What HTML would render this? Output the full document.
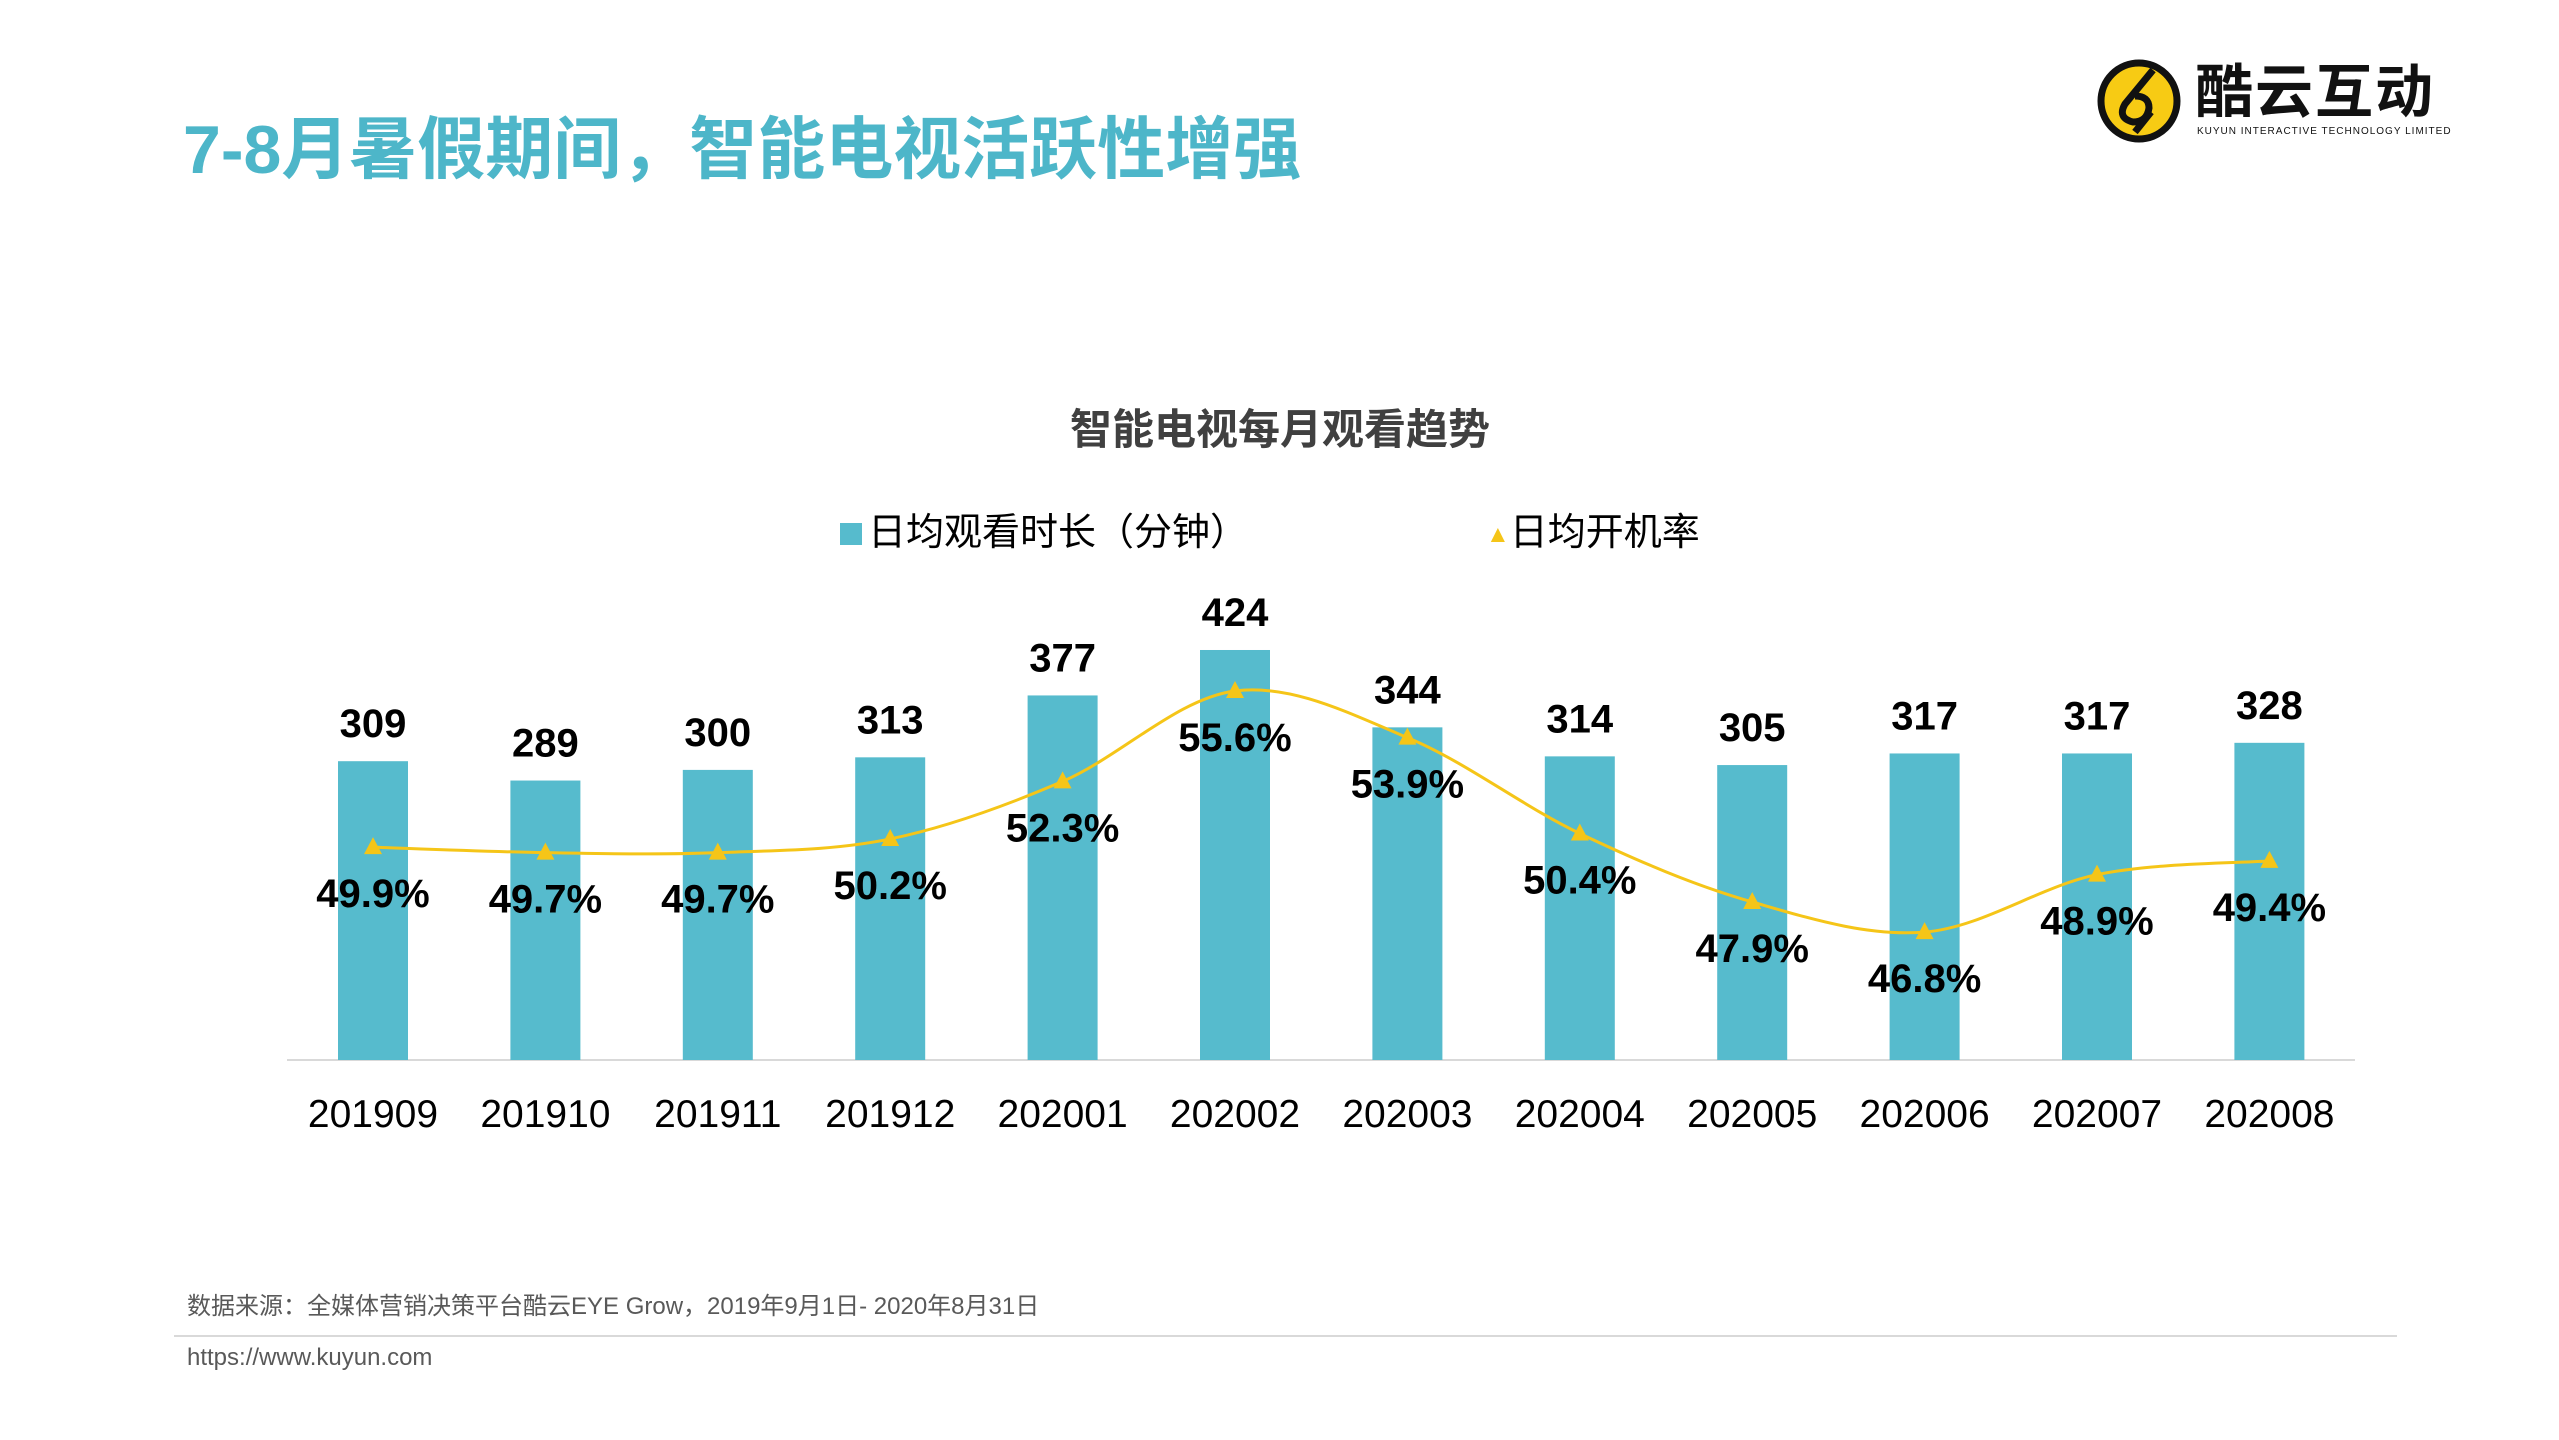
<!DOCTYPE html>
<html><head><meta charset="utf-8"><style>
html,body{margin:0;padding:0;background:#fff;}
body{width:2559px;height:1440px;position:relative;overflow:hidden;font-family:"Liberation Sans","Noto Sans CJK SC",sans-serif;}
.abs{position:absolute;}
</style></head><body>
<div class="abs" style="left:183px;top:108px;font-size:68px;font-weight:bold;color:#4DB6C9;white-space:nowrap;line-height:84px;">7-8月暑假期间，智能电视活跃性增强</div>
<div class="abs" style="left:2095px;top:56px;width:350px;height:90px;">
<svg width="350" height="90"><circle cx="44" cy="45" r="38" fill="#F7CB14" stroke="#111" stroke-width="7"/><path d="M58 14 L30 48 Q22 62 38 66 Q52 66 54 52 Q54 40 40 40 M40 76 L56 56" stroke="#111" stroke-width="7" fill="none"/></svg>
<div class="abs" style="left:100px;top:4px;font-size:58px;font-weight:bold;color:#111;line-height:66px;letter-spacing:2px;">酷云互动</div>
<div class="abs" style="left:102px;top:70px;font-size:10px;color:#111;letter-spacing:1px;white-space:nowrap;">KUYUN INTERACTIVE TECHNOLOGY LIMITED</div>
</div>
<div class="abs" style="left:0;width:2560px;text-align:center;top:396px;font-size:42px;font-weight:bold;color:#404040;">智能电视每月观看趋势</div>
<div class="abs" style="left:840px;top:508px;font-size:38px;color:#000;white-space:nowrap;line-height:50px;"><span style="display:inline-block;width:22px;height:22px;background:#56BBCD;margin-right:6px;"></span>日均观看时长（分钟）</div>
<div class="abs" style="left:1486px;top:508px;font-size:38px;color:#000;white-space:nowrap;line-height:50px;"><span style="color:#F5C518;font-size:24px;vertical-align:middle;">▲</span>日均开机率</div>
<svg class="abs" style="left:0;top:0" width="2559" height="1440" id="chart"></svg>
<div class="abs" style="left:187px;top:1286px;font-size:24px;color:#595959;white-space:nowrap;">数据来源：全媒体营销决策平台酷云EYE Grow，2019年9月1日- 2020年8月31日</div>
<div class="abs" style="left:174px;top:1335px;width:2223px;height:2px;background:#d9d9d9;"></div>
<div class="abs" style="left:187px;top:1344px;font-size:24px;color:#595959;">https://www.kuyun.com</div>
<script>
const categories=["201909","201910","201911","201912","202001","202002","202003","202004","202005","202006","202007","202008"];
const minutes=[309,289,300,313,377,424,344,314,305,317,317,328];
const rates=[49.9,49.7,49.7,50.2,52.3,55.6,53.9,50.4,47.9,46.8,48.9,49.4];
const svg=document.getElementById('chart');const NS='http://www.w3.org/2000/svg';
const x=i=>373+i*172.4;
const BASE=1060;
const yb=v=>BASE-v*0.967;
const yr=v=>691+(55.6-v)*27.4;
function mk(t,a){const e=document.createElementNS(NS,t);for(const k in a)e.setAttribute(k,a[k]);svg.appendChild(e);return e;}
const ax=mk('line',{x1:287,x2:2355,y1:BASE,y2:BASE,stroke:'#d9d9d9','stroke-width':2});


categories.forEach((c,i)=>{
 const b=mk('rect',{x:x(i)-35,y:yb(minutes[i]),width:70,height:BASE-yb(minutes[i]),fill:'#56BBCD'});
 
 
 const t=mk('text',{x:x(i),y:yb(minutes[i])-24,'text-anchor':'middle','font-size':40,'font-weight':'bold',fill:'#000'});t.textContent=minutes[i];
 
 
 const l=mk('text',{x:x(i),y:1127,'text-anchor':'middle','font-size':39,fill:'#000'});l.textContent=c;
 
 
});
const P=rates.map((r,i)=>[x(i),yr(r)]);
let d='M'+P[0][0]+','+P[0][1];
for(let i=0;i<P.length-1;i++){const p0=P[i-1]||P[i],p1=P[i],p2=P[i+1],p3=P[i+2]||P[i+1];
 d+=` C${p1[0]+(p2[0]-p0[0])/6},${p1[1]+(p2[1]-p0[1])/6} ${p2[0]-(p3[0]-p1[0])/6},${p2[1]-(p3[1]-p1[1])/6} ${p2[0]},${p2[1]}`;}
const ln=mk('path',{d:d,fill:'none',stroke:'#F5C518','stroke-width':3});


rates.forEach((r,i)=>{const px=x(i),py=yr(r);
 const m=mk('path',{d:`M${px},${py-10} L${px+9},${py+7} L${px-9},${py+7} Z`,fill:'#F5C518'});
 
 
 const t=mk('text',{x:px,y:py+60,'text-anchor':'middle','font-size':40,'font-weight':'bold',fill:'#000'});t.textContent=r.toFixed(1)+'%';
 
 
});
</script>
</body></html>
